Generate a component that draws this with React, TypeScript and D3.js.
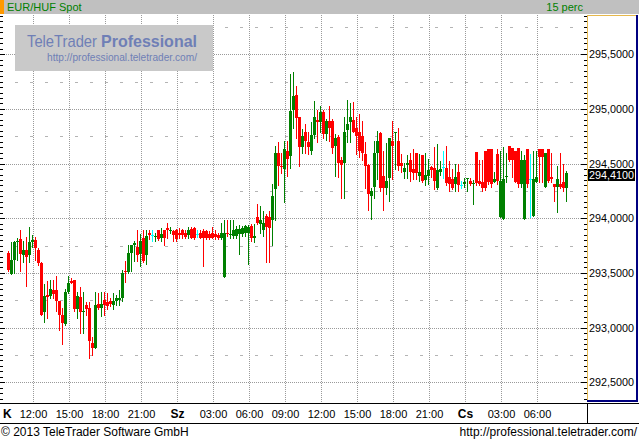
import React from "react";
import * as d3 from "d3";

// bars are 15-minute steps counted from Tuesday 12:00; the first visible bar is at step -9
const FIRST_BAR = -9;

const OPEN = [
  293.68, 293.49, 293.62, 293.78, 293.81, 293.66, 293.71, 293.66, 293.78, 293.80,
  293.71, 293.59, 293.14, 293.30, 293.29, 293.34, 293.34, 293.24, 293.12, 293.03,
  293.33, 293.43, 293.44, 293.17, 293.28, 293.14, 293.21, 293.18, 292.86, 292.81,
  293.22, 293.18, 293.25, 293.23, 293.24, 293.21, 293.24, 293.25, 293.27, 293.52,
  293.51, 293.68, 293.76, 293.74, 293.67, 293.82, 293.66, 293.87, 293.85, 293.83,
  293.89, 293.82, 293.89, 293.91, 293.88, 293.88, 293.89, 293.87, 293.89, 293.87,
  293.85, 293.90, 293.91, 293.86, 293.87, 293.88, 293.88, 293.86, 293.87, 293.86,
  293.85, 293.82, 293.46, 293.87, 293.85, 293.84, 293.84, 293.86, 293.86, 293.87,
  293.87, 293.93, 293.82, 294.01, 293.95, 293.89, 294.02, 294.01, 293.98, 294.27,
  294.60, 294.48, 294.45, 294.62, 294.57, 294.99, 295.13, 294.93, 294.65, 294.79,
  294.70, 294.62, 294.76, 294.90, 294.88, 294.97, 294.77, 294.89, 294.89, 294.66,
  294.74, 294.53, 294.51, 294.81, 294.88, 294.90, 294.83, 294.79, 294.75, 294.59,
  294.49, 294.20, 294.29, 294.60, 294.78, 294.39, 294.28, 294.37, 294.71, 294.78,
  294.71, 294.51, 294.42, 294.49, 294.53, 294.45, 294.60, 294.39, 294.58, 294.35,
  294.39, 294.47, 294.46, 294.28, 294.42, 294.47, 294.46, 294.38, 294.36, 294.31,
  294.42, 294.30, 294.31, 294.36, 294.34, 294.31, 294.61, 294.34, 294.33, 294.62,
  294.63, 294.63, 294.33, 294.59, 294.01, 293.99, 294.38, 294.66, 294.64, 294.62,
  294.64, 294.31, 293.99, 294.63, 294.36, 294.02, 294.33, 294.63, 294.63, 294.29,
  294.63, 294.38, 294.31, 294.29, 294.31, 294.33, 294.28,
];

const HIGH = [
  293.70, 293.78, 293.79, 293.82, 293.89, 293.79, 293.83, 293.92, 293.85, 293.83,
  293.73, 293.60, 293.40, 293.43, 293.44, 293.44, 293.47, 293.24, 293.18, 293.35,
  293.47, 293.45, 293.44, 293.33, 293.37, 293.33, 293.23, 293.23, 292.91, 293.33,
  293.32, 293.33, 293.33, 293.32, 293.27, 293.32, 293.30, 293.34, 293.53, 293.61,
  293.76, 293.76, 293.79, 293.89, 293.86, 293.89, 293.89, 293.89, 293.89, 293.87,
  293.89, 293.91, 293.89, 293.96, 293.92, 293.89, 293.90, 293.91, 293.90, 293.89,
  293.92, 293.92, 293.92, 293.89, 293.89, 293.90, 293.89, 293.88, 293.92, 293.89,
  293.87, 293.96, 293.98, 293.98, 293.98, 293.98, 293.93, 293.94, 293.93, 293.94,
  293.94, 293.95, 293.95, 294.13, 294.11, 294.07, 294.04, 294.07, 294.31, 294.66,
  294.70, 294.60, 294.71, 294.71, 295.32, 295.34, 295.21, 294.93, 294.82, 294.86,
  294.79, 294.88, 295.07, 294.99, 295.03, 294.99, 294.91, 295.03, 294.91, 294.77,
  294.76, 294.56, 294.93, 295.08, 295.05, 295.06, 294.93, 294.95, 294.89, 294.70,
  294.50, 294.28, 294.71, 294.80, 294.79, 294.62, 294.69, 294.73, 294.89, 294.79,
  294.83, 294.59, 294.51, 294.58, 294.60, 294.63, 294.60, 294.59, 294.58, 294.60,
  294.54, 294.48, 294.65, 294.68, 294.52, 294.62, 294.66, 294.52, 294.45, 294.50,
  294.50, 294.34, 294.37, 294.37, 294.37, 294.35, 294.61, 294.53, 294.53, 294.62,
  294.63, 294.63, 294.42, 294.63, 294.62, 294.65, 294.60, 294.66, 294.64, 294.62,
  294.64, 294.62, 294.58, 294.63, 294.59, 294.62, 294.62, 294.63, 294.63, 294.60,
  294.63, 294.60, 294.31, 294.48, 294.60, 294.50, 294.43,
];

const LOW = [
  293.52, 293.49, 293.50, 293.62, 293.52, 293.60, 293.38, 293.60, 293.74, 293.62,
  293.57, 293.12, 293.05, 293.09, 293.27, 293.27, 293.15, 292.98, 292.85, 293.02,
  293.32, 293.41, 293.15, 293.09, 292.95, 292.95, 293.12, 292.72, 292.75, 292.81,
  293.17, 293.11, 293.12, 293.17, 293.20, 293.17, 293.21, 293.21, 293.24, 293.42,
  293.50, 293.52, 293.61, 293.61, 293.56, 293.60, 293.58, 293.81, 293.79, 293.79,
  293.80, 293.79, 293.76, 293.82, 293.87, 293.79, 293.79, 293.82, 293.82, 293.82,
  293.82, 293.82, 293.81, 293.83, 293.82, 293.56, 293.81, 293.81, 293.82, 293.81,
  293.81, 293.81, 293.46, 293.84, 293.82, 293.82, 293.82, 293.67, 293.84, 293.84,
  293.58, 293.79, 293.78, 293.95, 293.87, 293.84, 293.60, 293.60, 293.76, 293.98,
  294.30, 294.41, 294.15, 294.39, 294.46, 294.83, 294.73, 294.48, 294.60, 294.60,
  294.59, 294.59, 294.73, 294.70, 294.79, 294.73, 294.72, 294.71, 294.60, 294.39,
  294.38, 294.19, 294.19, 294.70, 294.70, 294.79, 294.59, 294.56, 294.53, 294.28,
  294.08, 293.99, 294.19, 294.36, 294.25, 294.08, 294.22, 294.16, 294.36, 294.45,
  294.44, 294.42, 294.37, 294.37, 294.34, 294.36, 294.36, 294.34, 294.33, 294.30,
  294.31, 294.38, 294.27, 294.27, 294.40, 294.37, 294.30, 294.25, 294.27, 294.25,
  294.25, 294.28, 294.29, 294.25, 294.30, 294.13, 294.30, 294.30, 294.25, 294.26,
  294.31, 294.29, 294.33, 294.31, 294.01, 293.99, 294.33, 294.52, 294.38, 294.33,
  294.29, 294.29, 293.99, 294.29, 294.01, 294.02, 294.33, 294.33, 294.33, 294.29,
  294.33, 294.33, 294.16, 294.06, 294.28, 294.25, 294.16,
];

const CLOSE = [
  293.53, 293.62, 293.78, 293.79, 293.67, 293.71, 293.65, 293.78, 293.80, 293.73,
  293.59, 293.12, 293.29, 293.28, 293.35, 293.31, 293.24, 293.12, 293.04, 293.33,
  293.41, 293.41, 293.17, 293.29, 293.14, 293.15, 293.17, 292.88, 292.81, 293.21,
  293.18, 293.22, 293.21, 293.20, 293.22, 293.24, 293.27, 293.27, 293.50, 293.51,
  293.68, 293.76, 293.77, 293.66, 293.79, 293.61, 293.84, 293.85, 293.85, 293.84,
  293.81, 293.86, 293.82, 293.89, 293.89, 293.85, 293.81, 293.85, 293.85, 293.83,
  293.89, 293.82, 293.82, 293.86, 293.82, 293.82, 293.82, 293.82, 293.82, 293.83,
  293.82, 293.87, 293.87, 293.86, 293.86, 293.89, 293.90, 293.90, 293.91, 293.93,
  293.92, 293.82, 293.84, 293.96, 293.98, 293.96, 293.92, 293.91, 294.20, 294.60,
  294.48, 294.47, 294.63, 294.54, 294.98, 295.12, 294.92, 294.65, 294.75, 294.71,
  294.65, 294.76, 294.93, 294.88, 294.97, 294.77, 294.89, 294.83, 294.64, 294.73,
  294.51, 294.49, 294.79, 294.86, 294.93, 294.79, 294.75, 294.62, 294.60, 294.48,
  294.22, 294.25, 294.60, 294.71, 294.28, 294.28, 294.34, 294.73, 294.66, 294.79,
  294.48, 294.48, 294.46, 294.51, 294.42, 294.41, 294.41, 294.42, 294.34, 294.40,
  294.44, 294.44, 294.34, 294.44, 294.45, 294.47, 294.32, 294.31, 294.28, 294.38,
  294.30, 294.30, 294.33, 294.37, 294.31, 294.32, 294.32, 294.31, 294.28, 294.28,
  294.33, 294.31, 294.36, 294.34, 294.34, 294.36, 294.39, 294.53, 294.53, 294.33,
  294.31, 294.53, 294.53, 294.31, 294.36, 294.36, 294.38, 294.56, 294.56, 294.60,
  294.34, 294.36, 294.29, 294.36, 294.29, 294.28, 294.41,
];

const PRICE_TICKS = [292.5, 293, 293.5, 294, 294.5, 295, 295.5];
const QUARTER_LEVELS = [292.75, 293.25, 293.75, 294.25, 294.75, 295.25, 295.75];
const TIME_LABELS = [
  "12:00", "15:00", "18:00", "21:00", "Sz", "03:00", "06:00", "09:00",
  "12:00", "15:00", "18:00", "21:00", "Cs", "03:00", "06:00",
];
const DAY_LABELS = ["K", "Sz", "Cs"];
const LAST_PRICE = 294.41;

const W = 639;
const H = 440;
const PR = 587;
const PT = 15;
const PB = 402;
const FONT = "Arial, 'Liberation Sans', sans-serif";

const fmt = (v: number) => v.toFixed(4).replace(".", ",");

export default function App() {
  const y = d3.scaleLinear().domain([292.5, 295.5]).range([382.3, 54.3]);
  const x = d3.scaleLinear().domain([0, 12]).range([33.3, 69.3]);

  const minorTicks = d3
    .range(5847, 5918)
    .map((k) => k * 0.05)
    .filter((v) => y(v) > PT && y(v) < PB);

  const bars = OPEN.map((o, i) => {
    const t = FIRST_BAR + i;
    const c = CLOSE[i];
    const left = Math.round(x(t)) + 1;
    const color = c > o ? "#008000" : c < o ? "#ff0000" : "#00ffff";
    const yH = Math.round(y(HIGH[i]));
    const yL = Math.round(y(LOW[i]));
    const yTop = Math.round(y(Math.max(o, c)));
    const yBot = Math.round(y(Math.min(o, c)));
    return (
      <g key={i}>
        <line x1={left + 1.5} x2={left + 1.5} y1={yH} y2={yL + 1} stroke={color} strokeWidth={1} />
        <rect x={left} y={yTop} width={3} height={Math.max(1, yBot - yTop)} fill={color} />
      </g>
    );
  });

  const yLast = Math.round(y(LAST_PRICE));

  return (
    <div style={{ position: "fixed", left: 0, top: 0 }}>
      <svg width={W} height={H} style={{ display: "block" }} fontFamily={FONT}>
        <rect width={W} height={H} fill="#ffffff" />

        {/* quarter-level short dashes */}
        {QUARTER_LEVELS.map((v) => (
          <line key={"q" + v} x1={0} x2={PR} y1={Math.round(y(v)) + 0.5} y2={Math.round(y(v)) + 0.5}
            stroke="#b4b4b4" strokeDasharray="3,12" shapeRendering="crispEdges" />
        ))}
        {/* horizontal dotted grid */}
        {PRICE_TICKS.map((v) => (
          <line key={"h" + v} x1={0} x2={PR} y1={Math.round(y(v)) + 0.5} y2={Math.round(y(v)) + 0.5}
            stroke="#9a9a9a" strokeDasharray="1,1" shapeRendering="crispEdges" />
        ))}
        {/* vertical dotted grid */}
        {TIME_LABELS.map((_, k) => (
          <line key={"v" + k} x1={Math.round(x(12 * k)) + 0.5} x2={Math.round(x(12 * k)) + 0.5} y1={PT} y2={PB}
            stroke="#9a9a9a" strokeDasharray="1,1" shapeRendering="crispEdges" />
        ))}

        {/* watermark */}
        <rect x={15} y={25} width={198} height={46} fill="#c9c9c9" />
        <text x={27} y={47} fontSize={17} fill="#6f7fb6" textLength={70} lengthAdjust="spacingAndGlyphs">TeleTrader</text>
        <text x={101} y={47} fontSize={17} fontWeight="bold" fill="#6f7fb6" textLength={96} lengthAdjust="spacingAndGlyphs">Professional</text>
        <text x={47} y={61} fontSize={11} fill="#6f7fb6" textLength={150} lengthAdjust="spacingAndGlyphs">http://professional.teletrader.com/</text>

        {/* candles */}
        <g shapeRendering="crispEdges">{bars}</g>

        {/* left ticks */}
        {minorTicks.map((v, k) => {
          const yy = Math.round(y(v)) + 0.5;
          const major = Math.abs(v * 2 - Math.round(v * 2)) < 1e-6;
          return <line key={"lt" + k} x1={0} x2={major ? 5 : 3} y1={yy} y2={yy} stroke="#000" shapeRendering="crispEdges" />;
        })}
        {/* right ticks */}
        {minorTicks.map((v, k) => {
          const yy = Math.round(y(v)) + 0.5;
          const major = Math.abs(v * 2 - Math.round(v * 2)) < 1e-6;
          return <line key={"rt" + k} x1={major ? 581 : 584} x2={PR} y1={yy} y2={yy} stroke="#000" shapeRendering="crispEdges" />;
        })}

        {/* header */}
        <rect x={0} y={0} width={W} height={14} fill="#c0c0c0" />
        <rect x={0} y={0} width={4} height={14} fill="#ff9900" />
        <text x={7} y={11} fontSize={11} fill="#008000">EUR/HUF Spot</text>
        <text x={583} y={11} fontSize={11} fill="#008000" textAnchor="end">15 perc</text>

        {/* right axis panel */}
        <line x1={PR + 0.5} x2={PR + 0.5} y1={PT} y2={400} stroke="#e6b84c" shapeRendering="crispEdges" />
        <line x1={PR} x2={637} y1={PT + 0.5} y2={PT + 0.5} stroke="#e6b84c" shapeRendering="crispEdges" />
        <rect x={636} y={PT} width={2} height={387} fill="#000080" />
        <rect x={PR} y={400} width={51} height={2} fill="#000080" />
        {PRICE_TICKS.map((v) => (
          <text key={"yl" + v} x={589} y={Math.round(y(v)) + 4} fontSize={11} fill="#000"
            textLength={45} lengthAdjust="spacingAndGlyphs">{fmt(v)}</text>
        ))}
        <rect x={PR + 1} y={yLast - 4} width={47} height={12} fill="#000" />
        <text x={589} y={yLast + 6} fontSize={11} fill="#fff" textLength={45} lengthAdjust="spacingAndGlyphs">{fmt(LAST_PRICE)}</text>

        {/* time axis strip */}
        <line x1={0} x2={W} y1={403.5} y2={403.5} stroke="#000" shapeRendering="crispEdges" />
        <line x1={0} x2={W} y1={423.5} y2={423.5} stroke="#000" shapeRendering="crispEdges" />
        <line x1={PR + 0.5} x2={PR + 0.5} y1={403.5} y2={423.5} stroke="#000" shapeRendering="crispEdges" />
        <text x={3} y={418} fontSize={12} fontWeight="bold" fill="#000">{DAY_LABELS[0]}</text>
        {TIME_LABELS.map((lab, k) => {
          const bold = DAY_LABELS.includes(lab);
          return (
            <text key={"tl" + k} x={Math.round(x(12 * k)) + 0.5} y={418} fontSize={bold ? 12 : 11}
              fontWeight={bold ? "bold" : "normal"} textAnchor="middle" fill="#000">{lab}</text>
          );
        })}

        {/* footer */}
        <text x={1} y={436} fontSize={12} fill="#000">© 2013 TeleTrader Software GmbH</text>
        <text x={637} y={436} fontSize={12} fill="#000" textAnchor="end">http://professional.teletrader.com/</text>
      </svg>
    </div>
  );
}
